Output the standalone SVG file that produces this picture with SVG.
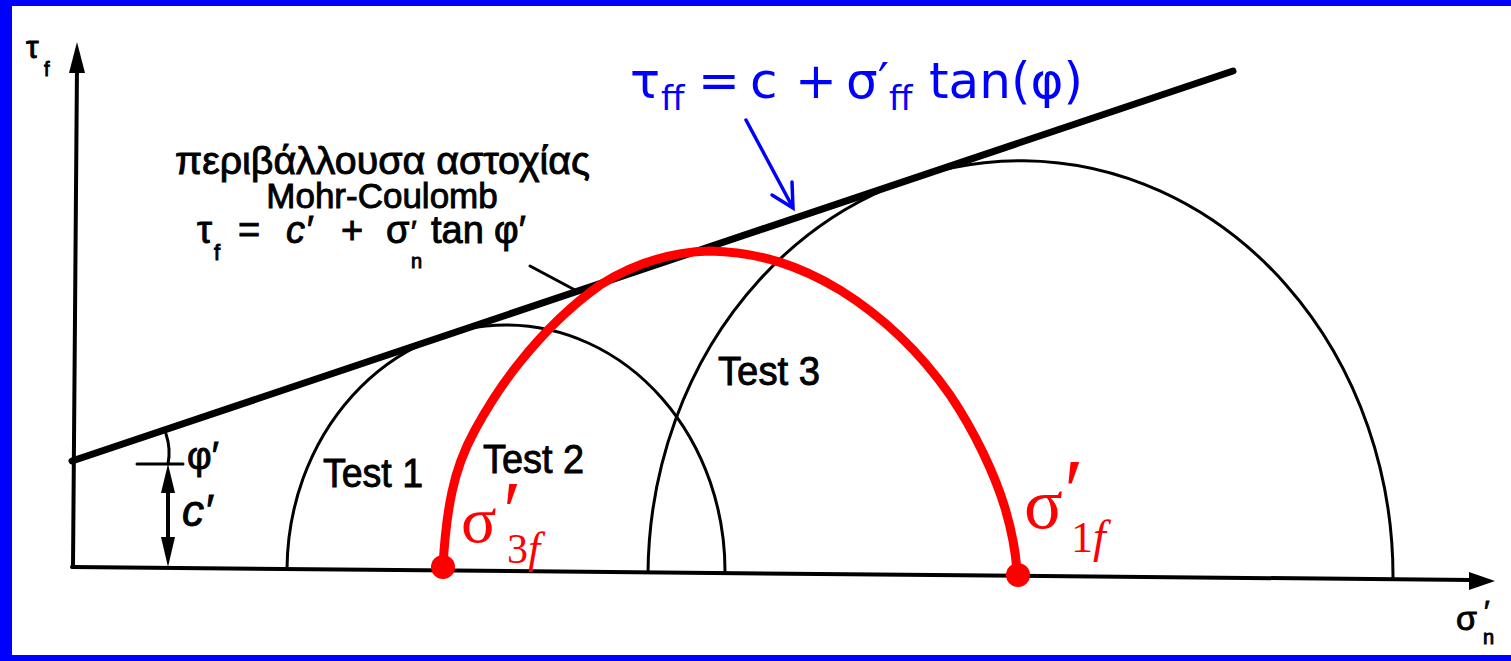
<svg xmlns="http://www.w3.org/2000/svg" width="1511" height="661" viewBox="0 0 1511 661">
<defs>
<style>
.ax{stroke:#000;stroke-width:4;fill:none;stroke-linecap:round}
.env{stroke:#000;stroke-width:7;fill:none;stroke-linecap:round}
.circ{stroke:#000;stroke-width:3;fill:none}
.thin{stroke:#000;stroke-width:3;fill:none;stroke-linecap:round}
.lbl{font-family:"Liberation Sans",Arial,sans-serif;fill:#000;stroke:#000;stroke-width:0.9}
.red{font-family:"Liberation Serif","Times New Roman",serif;fill:#ff0000}
.blue{font-family:"DejaVu Sans",Verdana,sans-serif;fill:#0000ff}
</style>
</defs>
<rect width="1511" height="661" fill="#ffffff"/>
<g id="frame" fill="#0000ff">
<rect x="0" y="0" width="1511" height="6"/>
<rect x="0" y="0" width="12" height="661"/>
<rect x="0" y="655" width="1511" height="6"/>
</g>
<g id="axes">
<line class="ax" x1="73" y1="567" x2="77" y2="66"/>
<polygon points="77,42 69,73 85,73" fill="#000"/>
<line class="ax" x1="72" y1="567" x2="1472" y2="580"/>
<polygon points="1495,581 1469,572 1469,590" fill="#000"/>
<text class="lbl" font-size="32" x="26" y="58">τ<tspan x="44" y="76" font-size="20">f</tspan></text>
<text class="lbl" font-size="34" x="1456" y="630">σ<tspan x="1484" y="621" font-size="30">′</tspan><tspan x="1483" y="644" font-size="20">n</tspan></text>
</g>
<g id="envelope">
<line class="env" x1="72" y1="461" x2="1233" y2="71"/>
<text class="lbl" font-size="38" x="175" y="174" textLength="415" lengthAdjust="spacingAndGlyphs">περιβάλλουσα αστοχίας</text>
<text class="lbl" font-size="35" x="382" y="208" text-anchor="middle">Mohr-Coulomb</text>
<text class="lbl" font-size="38" y="243"><tspan x="197">τ</tspan><tspan x="214" y="260" font-size="22">f</tspan><tspan x="238" y="243">=</tspan><tspan x="286" font-style="italic">c′</tspan><tspan x="341">+</tspan><tspan x="386">σ</tspan><tspan x="411" y="241" font-size="30">′</tspan><tspan x="411" y="268" font-size="20">n</tspan><tspan x="431" y="243">tan</tspan><tspan x="494">φ′</tspan></text>
<line class="thin" x1="530" y1="266" x2="575" y2="290"/>
</g>
<g id="angle-cohesion">
<path class="thin" d="M166,434 Q171,449 168,464"/>
<line class="thin" x1="137" y1="464" x2="183" y2="464"/>
<line class="ax" x1="168" y1="485" x2="168" y2="545"/>
<polygon points="168,464 161,493 175,493" fill="#000"/>
<polygon points="168,567 161,537 175,537" fill="#000"/>
<text class="lbl" font-size="38" x="187" y="469">φ′</text>
<text class="lbl" font-size="44" x="182" y="526" font-style="italic">c′</text>
</g>
<g id="test1">
<path class="circ" d="M287,569 A219,246 0 0 1 725,573"/>
<text class="lbl" font-size="40" x="323" y="487" textLength="100" lengthAdjust="spacingAndGlyphs">Test 1</text>
</g>
<g id="test3">
<path class="circ" d="M648,573 A372.5,416 0 0 1 1393,580"/>
<text class="lbl" font-size="40" x="718" y="385" textLength="102" lengthAdjust="spacingAndGlyphs">Test 3</text>
</g>
<g id="test2">
<text class="lbl" font-size="40" x="483" y="473" textLength="101" lengthAdjust="spacingAndGlyphs">Test 2</text>
<path d="M443,567 C444,548 447,515 452,492 C457,468 464,450 475,430 C488,406 503,383 520,362 C540,337 565,310 600,285 C630,266 668,252 710,251 C760,252 800,266 840,290 C885,318 922,355 950,395 C975,432 995,475 1005,508 C1013,535 1016,555 1017,572" fill="none" stroke="#ff0000" stroke-width="9" stroke-linecap="round" stroke-linejoin="round"/>
<circle cx="443" cy="567" r="12" fill="#ff0000"/>
<circle cx="1018" cy="575" r="12" fill="#ff0000"/>
<text class="red" font-size="66"><tspan x="461" y="542">σ</tspan><tspan x="503" y="540" font-size="84">′</tspan><tspan x="507" y="563" font-size="42">3</tspan><tspan x="528" y="563" font-size="44" font-style="italic">f</tspan></text>
<text class="red" font-size="72"><tspan x="1024" y="528">σ</tspan><tspan x="1064" y="522" font-size="90">′</tspan><tspan x="1071" y="552" font-size="44">1</tspan><tspan x="1093" y="552" font-size="46" font-style="italic">f</tspan></text>
</g>
<g id="connectors">
<line x1="746" y1="120" x2="792" y2="206" stroke="#0000ff" stroke-width="3.5" stroke-linecap="round"/>
<polyline points="772,195 793,208 792,182" fill="none" stroke="#0000ff" stroke-width="3.5" stroke-linecap="round" stroke-linejoin="miter"/>
</g>
<g id="formula">
<text class="blue" font-size="50" y="98"><tspan x="630">τ</tspan><tspan x="661" y="110" font-size="34">ff</tspan><tspan x="698" y="98">=</tspan><tspan x="750">c</tspan><tspan x="795">+</tspan><tspan x="846">σ′</tspan><tspan x="889" y="110" font-size="34">ff</tspan><tspan x="929" y="98">tan(φ)</tspan></text>
</g>
</svg>
